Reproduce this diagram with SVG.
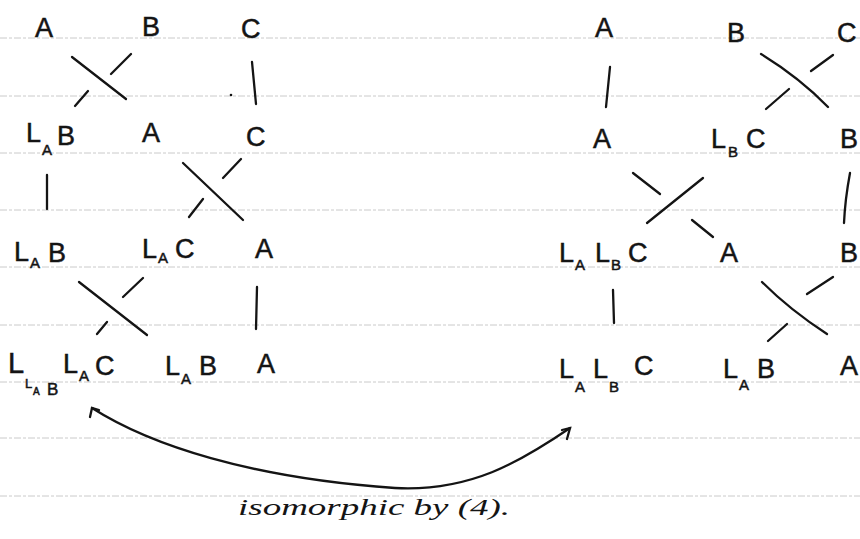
<svg xmlns="http://www.w3.org/2000/svg" width="860" height="539" viewBox="0 0 860 539">
<style>
.rule{stroke:#c4c4c4;stroke-width:0.9;stroke-dasharray:7 2 3 2}
.s{stroke:#141414;stroke-width:2.3;stroke-linecap:round;fill:none}
text{font-family:"Liberation Sans","DejaVu Sans",sans-serif;fill:#141414;stroke:#141414;stroke-width:0.5}
.b{font-size:27px}
.sub{font-size:15px}
.cap{font-family:"Liberation Serif",serif;font-style:italic;font-size:24px;stroke:none}
</style>
<rect width="860" height="539" fill="#fff"/>
<g id="paper">
<line class="rule" x1="0" y1="38" x2="860" y2="38"/>
<line class="rule" x1="0" y1="96" x2="860" y2="96"/>
<line class="rule" x1="0" y1="153" x2="860" y2="153"/>
<line class="rule" x1="0" y1="210" x2="860" y2="210"/>
<line class="rule" x1="0" y1="267" x2="860" y2="267"/>
<line class="rule" x1="0" y1="325" x2="860" y2="325"/>
<line class="rule" x1="0" y1="382" x2="860" y2="382"/>
<line class="rule" x1="0" y1="438" x2="860" y2="438"/>
<line class="rule" x1="0" y1="496" x2="860" y2="496"/>
</g>
<g id="connectors">
<path class="s" d="M72,57 L126,99"/>
<path class="s" d="M131,54 L111,74"/>
<path class="s" d="M88,91 L75,106"/>
<path class="s" d="M252,62 L256,104"/>
<circle cx="231" cy="95" r="1.3" fill="#141414"/>
<path class="s" d="M47,175 L47,209"/>
<path class="s" d="M183,163 L243,220"/>
<path class="s" d="M241,159 L223,178"/>
<path class="s" d="M203,199 L189,217"/>
<path class="s" d="M79,282 L147,335"/>
<path class="s" d="M143,278 L123,297"/>
<path class="s" d="M107,322 L97,334"/>
<path class="s" d="M257,287 L256,329"/>
<path class="s" d="M610,67 L606,107"/>
<path class="s" d="M761,54 Q800,78 828,107"/>
<path class="s" d="M833,55 L811,71"/>
<path class="s" d="M789,89 L766,109"/>
<path class="s" d="M703,178 L647,223"/>
<path class="s" d="M633,173 L660,194"/>
<path class="s" d="M692,220 L713,237"/>
<path class="s" d="M850,173 Q845,200 844,223"/>
<path class="s" d="M613,290 L614,323"/>
<path class="s" d="M762,282 Q790,310 827,334"/>
<path class="s" d="M833,277 L807,294"/>
<path class="s" d="M787,324 L768,341"/>
<path class="s" d="M90,417 L92,408 L99,410"/>
<path class="s" d="M92,408 C150,445 250,478 395,488 C470,492 520,462 570,428"/>
<path class="s" d="M562,430 L570,428 L567,439"/>
</g>
<g id="L1A"><text class="b" x="35" y="37">A</text></g>
<g id="L1B"><text class="b" x="142" y="36">B</text></g>
<g id="L1C"><text class="b" x="241" y="38">C</text></g>
<g id="L2LAB"><text class="b" x="26" y="142">L</text><text class="sub" x="42" y="155">A</text><text class="b" x="57" y="145">B</text></g>
<g id="L2A"><text class="b" x="142" y="142">A</text></g>
<g id="L2C"><text class="b" x="246" y="146">C</text></g>
<g id="L3LAB"><text class="b" x="14" y="261">L</text><text class="sub" x="30" y="268">A</text><text class="b" x="48" y="262">B</text></g>
<g id="L3LAC"><text class="b" x="142" y="258">L</text><text class="sub" x="158" y="263">A</text><text class="b" x="175" y="258">C</text></g>
<g id="L3A"><text class="b" x="255" y="258">A</text></g>
<g id="L4LLABLAC"><text class="b" x="8" y="373" style="font-size:29px">L</text><text x="25" y="388" style="font-size:13px">L</text><text x="33" y="395" style="font-size:10px">A</text><text x="47" y="395" style="font-size:17px">B</text><text class="b" x="63" y="373">L</text><text class="sub" x="79" y="381">A</text><text class="b" x="95" y="375">C</text></g>
<g id="L4LAB"><text class="b" x="165" y="375">L</text><text class="sub" x="181" y="384">A</text><text class="b" x="199" y="375">B</text></g>
<g id="L4A"><text class="b" x="257" y="373">A</text></g>
<g id="R1A"><text class="b" x="595" y="37">A</text></g>
<g id="R1B"><text class="b" x="727" y="42">B</text></g>
<g id="R1C"><text class="b" x="837" y="42">C</text></g>
<g id="R2A"><text class="b" x="593" y="148">A</text></g>
<g id="R2LBC"><text class="b" x="711" y="148">L</text><text class="sub" x="728" y="157">B</text><text class="b" x="746" y="148">C</text></g>
<g id="R2B"><text class="b" x="840" y="148">B</text></g>
<g id="R3LALBC"><text class="b" x="559" y="262">L</text><text class="sub" x="575" y="270">A</text><text class="b" x="595" y="262">L</text><text class="sub" x="611" y="270">B</text><text class="b" x="628" y="262">C</text></g>
<g id="R3A"><text class="b" x="720" y="262">A</text></g>
<g id="R3B"><text class="b" x="840" y="262">B</text></g>
<g id="R4LALBC"><text class="b" x="559" y="378">L</text><text class="sub" x="575" y="392">A</text><text class="b" x="593" y="378">L</text><text class="sub" x="609" y="392">B</text><text class="b" x="634" y="375">C</text></g>
<g id="R4LAB"><text class="b" x="723" y="378">L</text><text class="sub" x="739" y="390">A</text><text class="b" x="757" y="378">B</text></g>
<g id="R4A"><text class="b" x="840" y="375">A</text></g>
<g id="caption"><text class="cap" x="238" y="515" textLength="272" lengthAdjust="spacingAndGlyphs">isomorphic by (4).</text></g>
</svg>
